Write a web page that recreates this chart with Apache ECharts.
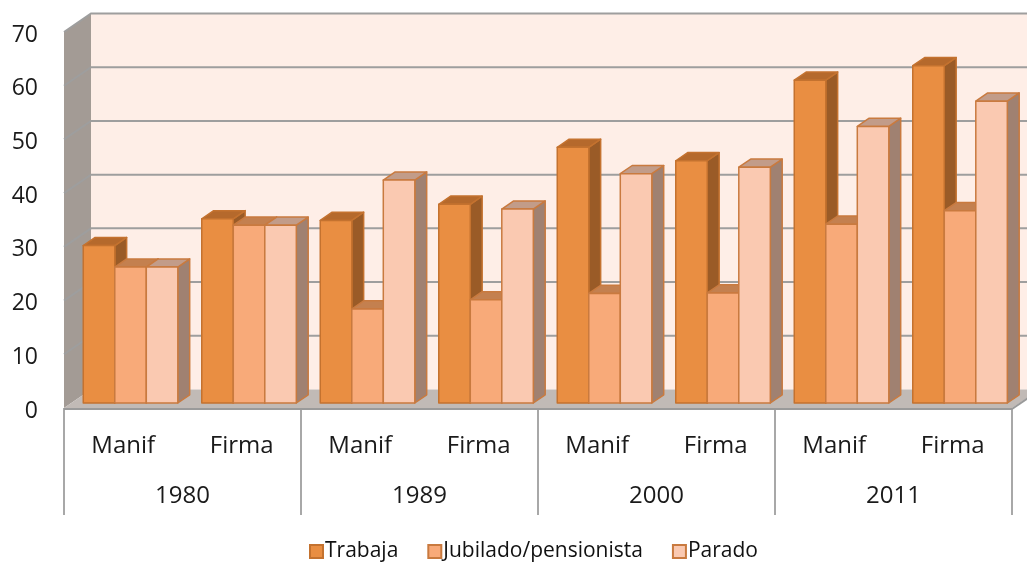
<!DOCTYPE html>
<html>
<head>
<meta charset="utf-8">
<script src="https://cdn.jsdelivr.net/npm/echarts@6/dist/echarts.min.js"></script>
<style>
  html, body { margin: 0; padding: 0; background: #ffffff; }
  #chart { width: 1027px; height: 564px; }
</style>
</head>
<body>
<div id="chart"></div>
<script>
// Inner categories, outer groups and the y ticks
const categories = ['Manif', 'Firma', 'Manif', 'Firma', 'Manif', 'Firma', 'Manif', 'Firma'];
const years = ['1980', '1989', '2000', '2011'];
const yTicks = [0, 10, 20, 30, 40, 50, 60, 70];

// Series values (%)
const trabaja  = [29.3, 34.3, 34.0, 37.0, 47.6, 45.1, 60.1, 62.8];
const jubilado = [25.3, 33.1, 17.5, 19.2, 20.4, 20.5, 33.3, 35.8];
const parado   = [25.3, 33.1, 41.5, 36.1, 42.7, 43.9, 51.5, 56.2];

const seriesNames = ['Trabaja', 'Jubilado/pensionista', 'Parado'];

// 3D look: full depth of the box and where the bars sit inside it
const DEPTH = [27, -18.5];
const BAR_FRONT = 0.27;
const BAR_BACK = 0.71;
const BAR_FRAC = 0.266;   // bar width as a share of the category band

const FONT = '"Open Sans", Lato, sans-serif';

const palettes = [
  { front: '#E98E42', top: '#B5692C', side: '#9A5B27', stroke: '#C4722F' },
  { front: '#F8AA79', top: '#C4804F', side: '#A9714F', stroke: '#C97A3F' },
  { front: '#FAC9B1', top: '#C29C89', side: '#A08171', stroke: '#C97A3F' }
];

// Back wall, side wall, floor and gridlines of the 3D box
function renderWalls(params, api) {
  const cs = params.coordSys;
  const x0 = cs.x, x1 = cs.x + cs.width;
  const yTop = api.coord([0, yTicks[yTicks.length - 1]])[1];
  const yBot = api.coord([0, 0])[1];
  const dx = DEPTH[0], dy = DEPTH[1];
  const children = [];
  children.push({
    type: 'rect',
    shape: { x: x0 + dx, y: yTop + dy, width: x1 - x0, height: yBot - yTop },
    style: { fill: '#FEEEE7' }
  });
  children.push({
    type: 'polygon',
    shape: { points: [[x0, yTop], [x0 + dx, yTop + dy], [x0 + dx, yBot + dy], [x0, yBot]] },
    style: { fill: '#A39B95' }
  });
  children.push({
    type: 'polygon',
    shape: { points: [[x0, yBot], [x1, yBot], [x1 + dx, yBot + dy], [x0 + dx, yBot + dy]] },
    style: { fill: '#C1BAB6' }
  });
  yTicks.forEach(function (v) {
    const y = api.coord([0, v])[1];
    if (v > 0) {
      children.push({
        type: 'polyline',
        shape: { points: [[x0, y], [x0 + dx, y + dy], [x1 + dx, y + dy]] },
        style: { stroke: '#9E9E9E', lineWidth: 2, fill: null }
      });
    }
  });
  children.push({
    type: 'line',
    shape: { x1: x0, y1: yBot + 1, x2: x1, y2: yBot + 1 },
    style: { stroke: '#9A9A9A', lineWidth: 2 }
  });
  children.push({
    type: 'line',
    shape: { x1: x1, y1: yBot + 1, x2: x1 + dx, y2: yBot + 1 + dy },
    style: { stroke: '#9A9A9A', lineWidth: 2 }
  });
  return { type: 'group', children: children };
}

// One 3D column: front face, top face and right side face
function makeBarRenderer(seriesIndex) {
  const pal = palettes[seriesIndex];
  return function (params, api) {
    const cat = api.value(0);
    const val = api.value(1);
    const base = api.coord([cat, 0]);
    const top = api.coord([cat, val]);
    const band = api.size([1, 0])[0];
    const w = band * BAR_FRAC;
    const fx = DEPTH[0] * BAR_FRONT, fy = DEPTH[1] * BAR_FRONT;
    const bx = DEPTH[0] * (BAR_BACK - BAR_FRONT), by = DEPTH[1] * (BAR_BACK - BAR_FRONT);
    const cx = base[0] + (seriesIndex - 1) * w + fx;
    const xl = cx - w / 2, xr = cx + w / 2;
    const yt = top[1] + fy, yb = base[1] + fy;
    const stroke = { stroke: pal.stroke, lineWidth: 1.5, lineJoin: 'round' };
    return {
      type: 'group',
      children: [
        {
          type: 'polygon',
          shape: { points: [[xr, yt], [xr + bx, yt + by], [xr + bx, yb + by], [xr, yb]] },
          style: Object.assign({ fill: pal.side }, stroke)
        },
        {
          type: 'polygon',
          shape: { points: [[xl, yt], [xr, yt], [xr + bx, yt + by], [xl + bx, yt + by]] },
          style: Object.assign({ fill: pal.top }, stroke)
        },
        {
          type: 'rect',
          shape: { x: xl, y: yt, width: w, height: yb - yt },
          style: Object.assign({ fill: pal.front }, stroke)
        }
      ]
    };
  };
}

const valueSets = [trabaja, jubilado, parado];
const barSeries = valueSets.map(function (vals, i) {
  return {
    name: seriesNames[i],
    type: 'custom',
    renderItem: makeBarRenderer(i),
    clip: false,
    z: 3,
    itemStyle: { color: palettes[i].front, borderColor: palettes[i].stroke, borderWidth: 1.5 },
    encode: { x: 0, y: 1 },
    data: vals.map(function (v, k) { return [k, v]; })
  };
});

const chart = echarts.init(document.getElementById('chart'), null, { renderer: 'canvas' });
chart.setOption({
  animation: false,
  backgroundColor: '#ffffff',
  grid: { left: 64, right: 15, top: 32, bottom: 156, containLabel: false },
  legend: {
    data: seriesNames,
    left: 304,
    top: 536,
    icon: 'rect',
    itemWidth: 13,
    itemHeight: 13,
    itemGap: 29,
    textStyle: { fontFamily: FONT, fontSize: 21, color: '#111111', padding: [0, 0, 0, -3] }
  },
  xAxis: [
    {
      type: 'category',
      data: categories,
      position: 'bottom',
      axisLine: { show: false },
      axisTick: { show: false },
      axisLabel: { margin: 26, fontFamily: FONT, fontSize: 24, color: '#1a1a1a' }
    },
    {
      type: 'category',
      data: years,
      position: 'bottom',
      offset: 107,
      axisLine: { show: false },
      axisTick: { show: true, inside: true, length: 107, lineStyle: { color: '#8C8C8C', width: 1.5 } },
      axisLabel: { inside: true, margin: 7, fontFamily: FONT, fontSize: 24, color: '#1a1a1a' }
    }
  ],
  yAxis: {
    type: 'value',
    min: 0,
    max: 70,
    interval: 10,
    axisLine: { show: false },
    axisTick: { show: false },
    splitLine: { show: false },
    axisLabel: {
      margin: 26,
      verticalAlign: 'top',
      lineHeight: 6,
      fontFamily: FONT,
      fontSize: 23,
      color: '#1a1a1a'
    }
  },
  series: [
    {
      name: 'walls',
      type: 'custom',
      renderItem: renderWalls,
      clip: false,
      silent: true,
      z: 1,
      data: [[0, 0]],
      encode: { x: 0, y: 1 }
    }
  ].concat(barSeries)
});
</script>
</body>
</html>
